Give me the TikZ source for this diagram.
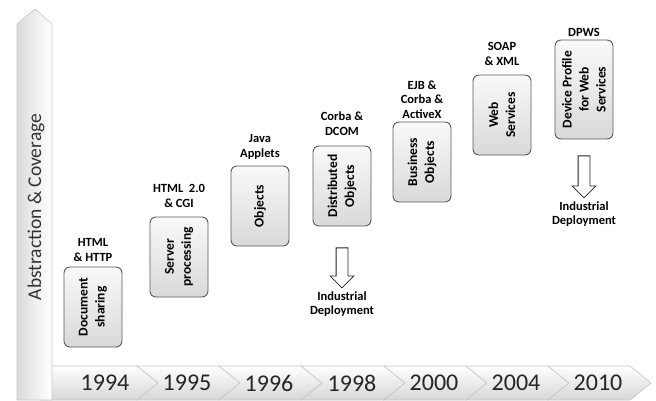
\documentclass[tikz,border=0pt]{standalone}
\usepackage{fontspec}
\setmainfont{Carlito}
\usetikzlibrary{positioning,shapes.arrows}
\begin{document}
\begin{tikzpicture}[x=1pt,y=-1pt,
  stage/.style={draw=black!65,line width=0.9pt,rounded corners=6pt,rotate=90,minimum width=80pt,minimum height=58pt,top color=gray!5,bottom color=gray!30,align=center,inner sep=2pt,font=\fontsize{13.5}{17}\selectfont\bfseries},
  tech/.style={align=center,inner sep=0pt,font=\fontsize{12.5}{14.5}\selectfont\bfseries},
  deploy/.style={single arrow,draw=black!85,line width=0.8pt,fill=white,rotate=-90,minimum height=40pt,minimum width=23pt,single arrow head extend=6pt,inner sep=5.5pt,anchor=tail}]
\useasboundingbox (0,0) rectangle (656,400);
\foreach \l/\r/\n/\yr in {40/137/0/1994,137/219/21/1995,219/301/21/1996,301/384/21/1998,384/466/21/2000,466/548/21/2004,548/630/21/2010} {
  \path[top color=white,bottom color=gray!32,draw=gray!45,line width=0.6pt] (\l,366) -- (\r,366) -- (\r+21,383) -- (\r,400) -- (\l,400) -- (\l+\n,383) -- cycle;
  \node[font=\fontsize{24}{24}\selectfont,text=black!85] (y\yr) at (\r-32,383) {\yr};
}
\path[left color=gray!28,right color=white,draw=gray!45,line width=0.6pt] (17,400) -- (17,24) -- (35,9) -- (52,24) -- (52,400) -- cycle;
\node[rotate=90,font=\fontsize{19.5}{20}\selectfont,text=black!80] (axis) at (36,207) {Abstraction \& Coverage};
\node[stage] (b1) at (93,307) {Document\\sharing};
\node[stage] (b2) at (179,257) {Server\\processing};
\node[stage] (b3) at (260,206) {Objects};
\node[stage] (b4) at (342,186) {Distributed\\Objects};
\node[stage] (b5) at (422,162) {Business\\Objects};
\node[stage] (b6) at (502,115) {Web\\Services};
\node[stage,minimum width=99pt] (b7) at (584,89.5) {Device Profile\\for Web\\Services};
\node[tech,above=5pt of b1.east] (t1) {HTML\\\& HTTP};
\node[tech,above=9pt of b2.east] (t2) {HTML~ 2.0\\\& CGI};
\node[tech,above=6pt of b3.east] (t3) {Java\\Applets};
\node[tech,above=10pt of b4.east] (t4) {Corba \&\\DCOM};
\node[tech,above=3pt of b5.east] (t5) {EJB \&\\Corba \&\\ActiveX};
\node[tech,above=9pt of b6.east] (t6) {SOAP\\\& XML};
\node[tech,above=3pt of b7.east] (t7) {DPWS};
\node[deploy] (d4) at ([yshift=-21pt]b4.west) {};
\node[tech,below=3pt of d4.tip] (i4) {Industrial\\Deployment};
\node[deploy,minimum height=42pt] (d7) at ([yshift=-16pt]b7.west) {};
\node[tech,below=3pt of d7.tip] (i7) {Industrial\\Deployment};
\end{tikzpicture}
\end{document}
